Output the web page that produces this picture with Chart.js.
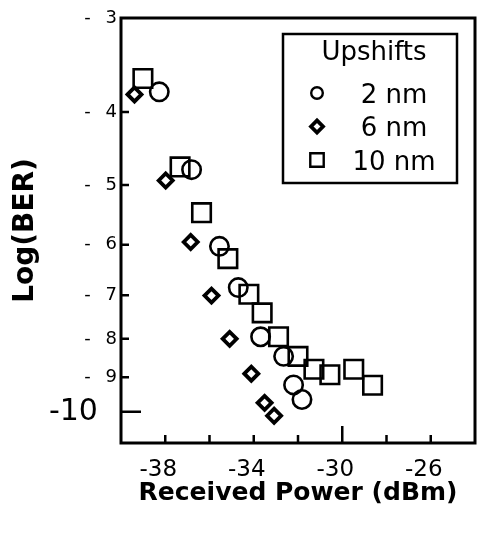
<!DOCTYPE html>
<html>
<head>
<meta charset="utf-8">
<script src="https://cdn.jsdelivr.net/npm/chart.js@4.4.1/dist/chart.umd.min.js"></script>
<style>
  body { margin: 0; background: #fff; }
  #wrap { width: 479px; height: 533px; }
</style>
</head>
<body>
<div id="wrap"><canvas id="berChart" width="479" height="533"></canvas></div>
<script>
// received power (dBm) against log(BER), one pair of arrays per upshift
const power2nm = [-38.27, -36.81, -35.55, -34.70, -33.69, -32.65, -32.20, -31.82];
const ber2nm = [-3.76, -4.77, -6.03, -6.84, -7.95, -8.44, -9.21, -9.63];
const power6nm = [-39.39, -37.98, -36.85, -35.91, -35.09, -34.11, -33.51, -33.08];
const ber6nm = [-3.79, -4.93, -5.95, -7.01, -8.00, -8.90, -9.73, -10.12];
const power10nm = [-39.01, -37.33, -36.36, -35.17, -34.22, -33.62, -32.88, -32.00, -31.28, -30.56, -29.48, -28.63];
const ber10nm = [-3.61, -4.73, -5.44, -6.26, -6.98, -7.39, -7.95, -8.44, -8.78, -8.93, -8.78, -9.22];

const xTickLabels = [-38, -34, -30, -26];
const xTickMarks = [-38, -36, -34, -32, -30, -28, -26];
const yTickValues = [-3, -4, -5, -6, -7, -8, -9, -10];

const FONT = "'DejaVu Sans', 'Liberation Sans', sans-serif";

// BER paper axis: positions go as log10(-log BER)
class BerScale extends Chart.LinearScale {
  determineDataLimits() {
    this.min = this.options.min;
    this.max = this.options.max;
  }
  buildTicks() {
    return yTickValues.map(v => ({ value: v }));
  }
  _t(v) { return Math.log10(-v); }
  getPixelForValue(value) {
    const t0 = this._t(this.min), t1 = this._t(this.max);
    return this.getPixelForDecimal((this._t(value) - t0) / (t1 - t0));
  }
  getValueForPixel(pixel) {
    const t0 = this._t(this.min), t1 = this._t(this.max);
    return -Math.pow(10, t0 + this.getDecimalForPixel(pixel) * (t1 - t0));
  }
}
BerScale.id = "ber";
BerScale.defaults = {};
Chart.register(BerScale);

function points(xs, ys) {
  return xs.map((x, i) => ({ x: x, y: ys[i] }));
}

const datasets = [
  { label: "2 nm", data: points(power2nm, ber2nm), pointStyle: "circle", pointRadius: 9.2, pointBorderWidth: 2.6 },
  { label: "6 nm", data: points(power6nm, ber6nm), pointStyle: "rectRot", pointRadius: 7, pointBorderWidth: 3.8 },
  { label: "10 nm", data: points(power10nm, ber10nm), pointStyle: "rect", pointRadius: 13.1, pointBorderWidth: 2.6 },
];
datasets.forEach(d => {
  d.borderColor = "#000";
  d.backgroundColor = "rgba(0,0,0,0)";
  d.pointHoverRadius = d.pointRadius;
});

// legend marker sizes are smaller than the data markers
const legendMarks = [
  { pointStyle: "circle", radius: 5.8, borderWidth: 2.4 },
  { pointStyle: "rectRot", radius: 6, borderWidth: 3.8 },
  { pointStyle: "rect", radius: 9.5, borderWidth: 2.4 },
];

// keeps the plot box fixed, whatever the tick labels want
function noSidePadding(s) {
  s.paddingLeft = 0;
  s.paddingRight = 0;
}

const framePlugin = {
  id: "frame",
  beforeDatasetsDraw(chart) {
    const { ctx, chartArea: a, scales } = chart;
    ctx.save();
    ctx.strokeStyle = "#000";
    ctx.lineWidth = 3;
    ctx.strokeRect(a.left, a.top, a.right - a.left, a.bottom - a.top);

    // inward tick marks
    ctx.lineWidth = 2.5;
    ctx.beginPath();
    yTickValues.forEach(v => {
      if (v === -3) return;
      const y = scales.y.getPixelForValue(v);
      const len = v === -10 ? 20 : 8;
      ctx.moveTo(a.left, y);
      ctx.lineTo(a.left + len, y);
    });
    xTickMarks.forEach(v => {
      const x = scales.x.getPixelForValue(v);
      const len = v === -30 ? 17 : 8;
      ctx.moveTo(x, a.bottom);
      ctx.lineTo(x, a.bottom - len);
    });
    ctx.stroke();
    ctx.restore();
  },
  afterDraw(chart) {
    const { ctx, chartArea: a } = chart;
    const bx = a.right - 192, by = a.top + 16, bw = 174, bh = 149;
    ctx.save();
    ctx.fillStyle = "#fff";
    ctx.fillRect(bx, by, bw, bh);
    ctx.strokeStyle = "#000";
    ctx.lineWidth = 2.5;
    ctx.strokeRect(bx, by, bw, bh);

    ctx.fillStyle = "#000";
    ctx.textAlign = "center";
    ctx.textBaseline = "alphabetic";
    ctx.font = "26px " + FONT;
    ctx.fillText("Upshifts", bx + 91, by + 26);

    chart.data.datasets.forEach((d, i) => {
      const y = by + 59 + i * 33.5;
      ctx.fillStyle = "rgba(0,0,0,0)";
      ctx.strokeStyle = "#000";
      ctx.lineWidth = legendMarks[i].borderWidth;
      Chart.helpers.drawPoint(ctx, { pointStyle: legendMarks[i].pointStyle, radius: legendMarks[i].radius, rotation: 0, borderWidth: legendMarks[i].borderWidth }, bx + 34, y);
      ctx.fillStyle = "#000";
      ctx.fillText(d.label, bx + 111, y + 9.5);
    });
    ctx.restore();
  },
};

new Chart(document.getElementById("berChart"), {
  type: "scatter",
  data: { datasets: datasets },
  options: {
    responsive: false,
    animation: false,
    devicePixelRatio: 1,
    layout: { autoPadding: false, padding: { top: 18, right: 4, left: 0, bottom: 0 } },
    plugins: { legend: { display: false }, tooltip: { enabled: false } },
    scales: {
      x: {
        type: "linear",
        min: -40,
        max: -24,
        afterBuildTicks: s => { s.ticks = xTickLabels.map(v => ({ value: v })); },
        afterFit: s => { s.height = 90; noSidePadding(s); },
        grid: { display: false, drawTicks: false },
        border: { display: false },
        ticks: {
          autoSkip: false,
          maxRotation: 0,
          padding: 13,
          labelOffset: -7,
          color: "#000",
          font: { family: FONT, size: 23 },
          callback: v => String(v),
        },
        title: {
          display: true,
          text: "Received Power (dBm)",
          color: "#000",
          font: { family: FONT, size: 25, weight: "bold" },
          padding: { top: 0, bottom: 25 },
        },
      },
      y: {
        type: "ber",
        min: -11,
        max: -3,
        afterFit: s => { s.width = 121; s.paddingTop = 0; s.paddingBottom = 0; },
        grid: { display: false, drawTicks: false },
        border: { display: false },
        ticks: {
          autoSkip: false,
          padding: 4,
          color: "#000",
          font: ctx => (ctx.tick && ctx.tick.value === -10)
            ? { family: FONT, size: 30 }
            : { family: FONT, size: 18 },
          callback: v => v === -10 ? "-10  " : "-\u2002 " + (-v),
        },
        title: {
          display: true,
          text: "Log(BER)",
          color: "#000",
          font: { family: FONT, size: 28, weight: "bold" },
          padding: { top: 9, bottom: 0 },
        },
      },
    },
  },
  plugins: [framePlugin],
});
</script>
</body>
</html>
